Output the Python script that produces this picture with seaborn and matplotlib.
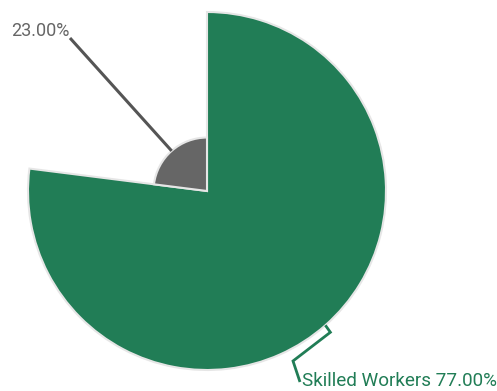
import numpy as np
import matplotlib
matplotlib.use("Agg")
import matplotlib.pyplot as plt
import seaborn as sns
from matplotlib.lines import Line2D

sns.set_theme(style="white")
plt.rcParams["font.family"] = ["Roboto", "DejaVu Sans"]

# Workforce composition (percent)
categories = ["Skilled Workers", ""]
values = [77.0, 23.0]
labels = ["Skilled Workers 77.00%", "23.00%"]
colors = ["#217d56", "#666666"]
text_colors = ["#217d56", "#666666"]

W, H, DPI = 497, 391, 100
fig = plt.figure(figsize=(W / DPI, H / DPI), dpi=DPI)
ax = fig.add_axes([28 / W, (H - 370) / H, 358 / W, 358 / H], projection="polar")

total = sum(values)
widths = [2 * np.pi * v / total for v in values]
starts = np.concatenate([[0], np.cumsum(widths)[:-1]])

ax.set_theta_zero_location("N")
ax.set_theta_direction(-1)
bars = ax.bar(starts, values, width=widths, align="edge", color=colors,
              edgecolor="#e6e6e6", linewidth=1.5)
for b in bars:
    b.set_clip_on(False)
ax.set_ylim(0, max(values))
ax.grid(False)
ax.set_xticks([])
ax.set_yticks([])
ax.spines["polar"].set_visible(False)
ax.patch.set_alpha(0)

fig.canvas.draw()

def to_px(theta, r):
    x, y = ax.transData.transform((theta, r))
    return x, H - y

mids = starts + np.array(widths) / 2
px_tr = matplotlib.transforms.IdentityTransform()

def add_line(pts, color, lw):
    xs = [p[0] for p in pts]
    ys = [H - p[1] for p in pts]
    fig.add_artist(Line2D(xs, ys, transform=px_tr, color=color, lw=lw,
                          solid_capstyle="butt", solid_joinstyle="miter"))

# Leader for the large slice: short tick out of the rim, then an elbow down to the label
ax0, ay0 = to_px(mids[0], values[0])
p1 = (ax0 + 5, ay0 + 7)
p2 = (293, 361)
p3 = (300, 382)
add_line([(ax0, ay0), p1, p2, p3], colors[0], 2.0)
fig.text(302 / W, 1 - 386 / H, labels[0], color=text_colors[0],
         fontsize=13.6, fontweight="normal", ha="left", va="baseline")

# Leader for the small slice: straight line up-left to the label
bx0, by0 = to_px(mids[1], values[1])
add_line([(bx0, by0), (70, 38)], "#555555", 2.2)
fig.text(11 / W, 1 - 36 / H, labels[1], color=text_colors[1],
         fontsize=13, fontweight="normal", ha="left", va="baseline")

fig.savefig("out.png", dpi=DPI)
